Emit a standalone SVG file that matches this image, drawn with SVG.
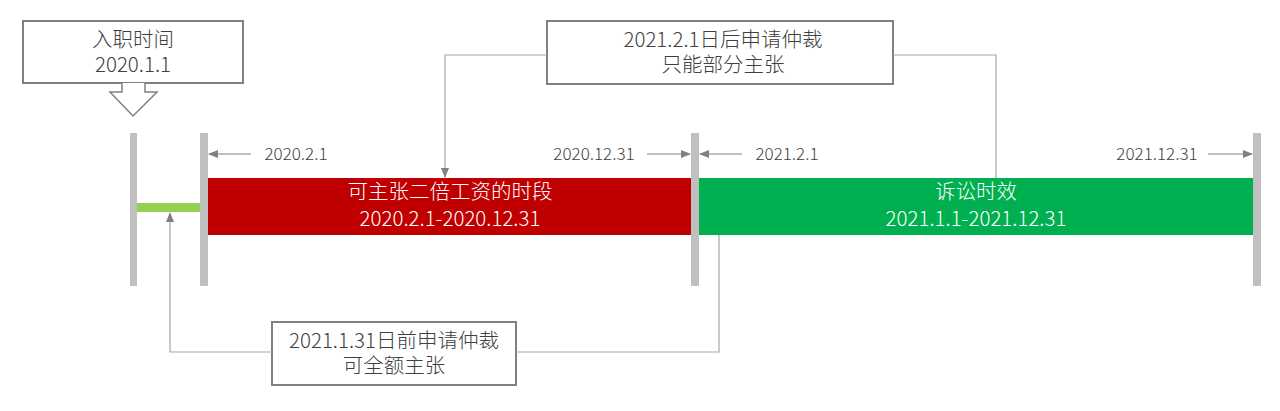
<svg xmlns="http://www.w3.org/2000/svg" width="1280" height="411" viewBox="0 0 1280 411">
<defs>
<marker id="ah" markerWidth="10" markerHeight="8" refX="9" refY="4" orient="auto" markerUnits="userSpaceOnUse">
<path d="M0,0 L10,4 L0,8 Z" fill="#808080"/>
</marker>
<style>
text{font-family:"Noto Sans CJK SC","Microsoft YaHei",sans-serif;font-weight:300;text-anchor:middle}
.box{fill:#fff;stroke:#808080;stroke-width:2}
.bt{font-size:20.5px;fill:#404040}
.lb{font-size:17px;fill:#404040}
.wt{font-size:20.5px;fill:#fff}
.pole{fill:#bfbfbf}
.conn{fill:none;stroke:#a6a6a6;stroke-width:1.2}
.arr{fill:none;stroke:#808080;stroke-width:1.2;marker-end:url(#ah)}
</style>
</defs>
<rect width="1280" height="411" fill="#fff"/>

<g id="poles">
<rect class="pole" x="130" y="133" width="7" height="153"/>
<rect class="pole" x="200" y="133" width="8" height="153"/>
<rect class="pole" x="691" y="133" width="8" height="153"/>
<rect class="pole" x="1253" y="133" width="8" height="153"/>
</g>

<g id="probation">
<rect x="137" y="203" width="63" height="9" fill="#92d050"/>
</g>

<g id="red-period">
<rect x="208" y="178" width="483" height="57" fill="#c00000"/>
<text class="wt" x="450" y="199">可主张二倍工资的时段</text>
<text class="wt" x="450" y="226">2020.2.1-2020.12.31</text>
</g>

<g id="green-period">
<rect x="699" y="178" width="554" height="57" fill="#00b050"/>
<text class="wt" x="976" y="199">诉讼时效</text>
<text class="wt" x="976" y="226">2021.1.1-2021.12.31</text>
</g>

<g id="hire-box">
<rect class="box" x="23" y="21" width="220" height="62"/>
<text class="bt" x="133" y="47">入职时间</text>
<text class="bt" x="133" y="72">2020.1.1</text>
<path d="M122,83 V92 H110 L133,116 L157,92 H145 V83" fill="#fff" stroke="#808080" stroke-width="1.5"/>
</g>

<g id="after-box">
<rect class="box" x="547" y="21" width="346" height="63"/>
<text class="bt" x="723" y="47">2021.2.1日后申请仲裁</text>
<text class="bt" x="723" y="72">只能部分主张</text>
</g>

<g id="before-box">
<rect class="box" x="272" y="322" width="244" height="63"/>
<text class="bt" x="394" y="348">2021.1.31日前申请仲裁</text>
<text class="bt" x="394" y="373">可全额主张</text>
</g>

<g id="labels">
<text class="lb" x="296" y="160">2020.2.1</text>
<text class="lb" x="594" y="160">2020.12.31</text>
<text class="lb" x="787" y="160">2021.2.1</text>
<text class="lb" x="1157" y="160">2021.12.31</text>
</g>

<g id="connectors">
<line class="arr" x1="251" y1="154" x2="209" y2="154"/>
<line class="arr" x1="647" y1="154" x2="690" y2="154"/>
<line class="arr" x1="742" y1="154" x2="700" y2="154"/>
<line class="arr" x1="1208" y1="154" x2="1252" y2="154"/>
<path class="conn" d="M547,55 H445 V177" marker-end="url(#ah)"/>
<path class="conn" d="M893,55 H996 V178"/>
<path class="conn" d="M272,352 H170 V213" marker-end="url(#ah)"/>
<path class="conn" d="M516,352 H719 V235"/>
</g>
</svg>
